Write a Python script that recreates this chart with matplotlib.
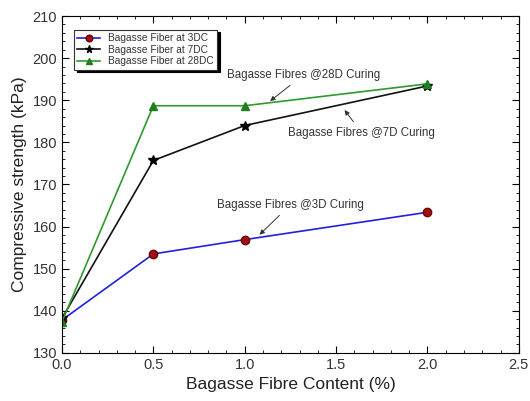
import numpy as np
import matplotlib.pyplot as plt
from matplotlib.ticker import MultipleLocator

plt.rcParams["font.family"] = ["Liberation Sans", "DejaVu Sans"]

# --- data ---
fibre = [0.0, 0.5, 1.0, 2.0]
dc3 = [137.8, 153.5, 156.9, 163.4]
dc7 = [138.2, 175.7, 184.0, 193.4]
dc28 = [137.4, 188.7, 188.7, 193.9]

fig = plt.figure(figsize=(5.3, 4.01), dpi=100)
ax = fig.add_axes([0.117, 0.12, 0.862, 0.84])

ax.plot(fibre, dc3, color="#2020e0", lw=1.2, marker="o", ms=6,
        mfc="#a01010", mec="#700000", label="Bagasse Fiber at 3DC")
ax.plot(fibre, dc7, color="#111111", lw=1.2, marker="*", ms=7,
        mfc="black", mec="black", label="Bagasse Fiber at 7DC")
ax.plot(fibre, dc28, color="#2e9a2e", lw=1.2, marker="^", ms=6,
        mfc="#1f7f1f", mec="#1f7f1f", label="Bagasse Fiber at 28DC")

ax.set_xlim(0, 2.5)
ax.set_ylim(130, 210)
ax.xaxis.set_major_locator(MultipleLocator(0.5))
ax.xaxis.set_minor_locator(MultipleLocator(0.1))
ax.yaxis.set_major_locator(MultipleLocator(10))
ax.yaxis.set_minor_locator(MultipleLocator(2))
ax.xaxis.set_major_formatter(plt.FormatStrFormatter("%.1f"))
ax.tick_params(which="both", direction="in", top=True, right=True,
               labelsize=10.5, labelcolor="#333333")
ax.tick_params(which="major", length=5)
ax.tick_params(which="minor", length=2.5)

ax.set_xlabel("Bagasse Fibre Content (%)", fontsize=12.5, color="#222222")
ax.set_ylabel("Compressive strength (kPa)", fontsize=12.5, color="#222222")

leg = ax.legend(loc="upper left", bbox_to_anchor=(0.015, 0.975), fontsize=7.3,
                frameon=True, fancybox=False, shadow={"color": "black", "alpha": 1},
                handlelength=2.2, borderpad=0.35, labelspacing=0.15,
                markerscale=0.8, edgecolor="#333333")
leg.get_frame().set_linewidth(0.8)
for t in leg.get_texts():
    t.set_color("#333333")

arrow = dict(arrowstyle="-|>", color="#333333", lw=0.7, mutation_scale=7)
ax.annotate("Bagasse Fibres @28D Curing", xy=(1.127, 189.4), xytext=(1.32, 196.0),
            fontsize=8.3, color="#333333", ha="center", va="center", arrowprops=arrow)
ax.annotate("Bagasse Fibres @7D Curing", xy=(1.537, 188.2), xytext=(1.64, 182.3),
            fontsize=8.3, color="#333333", ha="center", va="center", arrowprops=arrow)
ax.annotate("Bagasse Fibres @3D Curing", xy=(1.07, 157.6), xytext=(1.25, 165.2),
            fontsize=8.3, color="#333333", ha="center", va="center", arrowprops=arrow)

fig.savefig("out.png", dpi=100)
